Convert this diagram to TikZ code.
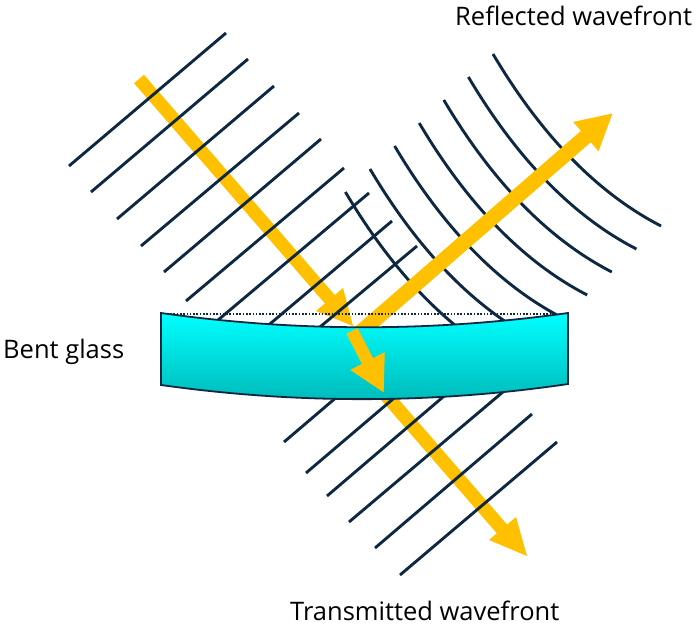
\documentclass[tikz,border=0pt]{standalone}
\usepackage{fontspec}
\setmainfont{Open Sans}
\usetikzlibrary{arrows.meta}
\definecolor{wavecolor}{HTML}{0E2841}
\definecolor{raycolor}{HTML}{FFC000}
\tikzset{
  wavefront/.style={draw=wavecolor,line width=2.9pt},
  rayarrow/.style={draw=raycolor,-{Triangle[length=36pt,width=36pt]}},
  label/.style={text=black,font=\fontsize{25.5}{30}\selectfont,inner sep=0pt},
}
\begin{document}
\begin{tikzpicture}[x=1pt,y=-1pt]
    \useasboundingbox(0,0) rectangle(700,629);
    \draw[draw=raycolor,line width=13pt](139,79)--(340,311);
    \fill[raycolor](353,326)--(316,311)--(343,288)--cycle;
    \draw[draw=raycolor,line width=13.5pt](385,394)--(515,544);
    \fill[raycolor](527,556)--(489,540)--(516,517)--cycle;
    \foreach \x/\y/\a/\b in{69/166/226/33,91/192/248/59,117/219/274/86,141/246/299/113,164/272/321/139,186/301/344/168,205/331/369/193,258/334/392/221,308/337/417/246}{
      \draw[wavefront](\x,\y)--(\a,\b);
    }
    \foreach \x/\y/\a/\b in{284/442/345/390,306/473/400/393,327/496/450/391,349/522/510/386,375/548/532/414,400/575/557/442}{
      \draw[wavefront](\x,\y)--(\a,\b);
    }
    \foreach \i in{0,...,6}{
      \begin{scope}[shift={({-24.6*\i},{23*\i})}]
        \draw[wavefront](493,54) .. controls (541,135) and (597,193) .. (661,226);
      \end{scope}
    }
    \draw[rayarrow,line width=15pt](355,337)--(613,113);
    \draw[draw=wavecolor,line width=1.8pt,top color=cyan,bottom color=cyan!72!black,shading angle=0]
      (161,313) .. controls (296,332) and (433,332) .. (568,313)
      --(568,384) .. controls (433,404) and (296,404) .. (161,385)--cycle;
    \draw[rayarrow,line width=12.5pt](352,331)--(384,393);
    \draw[draw=wavecolor,line width=1.6pt,dash pattern=on 1.6pt off 1.7pt](170,314)--(555,314);
    \node[label,anchor=west](reflected) at (455,16){Reflected wavefront};
    \node[label,anchor=west](bentglass) at (3,352){Bent glass};
    \node[label,anchor=west](transmitted) at (290,611){Transmitted wavefront};
\end{tikzpicture}
\end{document}
